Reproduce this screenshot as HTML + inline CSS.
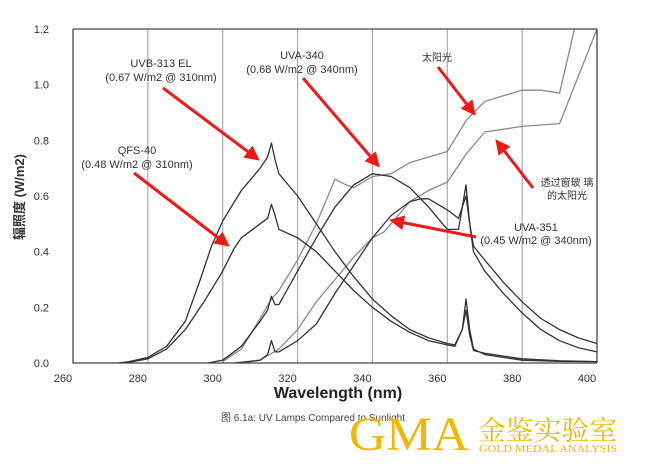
<!DOCTYPE html>
<html><head><meta charset="utf-8">
<style>
body{margin:0;background:#fff;width:649px;height:461px;overflow:hidden;font-family:"Liberation Sans","Noto Sans CJK SC",sans-serif}
.sans{font-family:"Liberation Sans","Noto Sans CJK SC",sans-serif}
.serif{font-family:"Liberation Serif","Noto Serif CJK SC",serif}
</style></head><body>
<svg width="649" height="461">
<g id="grid"></g><g id="series"></g><g id="axes" class="sans"></g>
</svg>
<script>
const xTicks=[260,280,300,320,340,360,380,400];
const yTicks=[0,0.2,0.4,0.6,0.8,1.0,1.2];
const uvbX=[272,275,280,285,290,294,297,300,305,310,312,313,314,315,320,325,330,335,340,345,350,355,360,362,364,365,366,367,370,380,390,400];
const uvbY=[0,0.005,0.02,0.06,0.15,0.3,0.42,0.51,0.62,0.7,0.74,0.79,0.73,0.68,0.6,0.5,0.4,0.31,0.23,0.17,0.12,0.09,0.07,0.065,0.12,0.23,0.12,0.05,0.03,0.01,0.006,0.005];
const qfsX=[273,275,280,285,290,295,300,303,305,307,310,312,313,314,315,320,325,330,335,340,345,350,355,360,362,364,365,366,367,370,380,390,400];
const qfsY=[0,0.003,0.015,0.05,0.12,0.22,0.33,0.41,0.45,0.47,0.5,0.52,0.57,0.53,0.48,0.45,0.4,0.33,0.26,0.2,0.15,0.11,0.08,0.065,0.06,0.12,0.19,0.1,0.045,0.035,0.015,0.008,0.005];
const u340X=[296,300,305,310,312,313,314,315,320,325,330,335,340,345,350,355,360,363,364,365,366,367,370,375,380,385,390,395,400];
const u340Y=[0,0.01,0.06,0.15,0.19,0.24,0.21,0.21,0.33,0.45,0.56,0.64,0.68,0.67,0.63,0.56,0.48,0.48,0.56,0.64,0.5,0.4,0.33,0.25,0.18,0.12,0.08,0.055,0.04];
const u351X=[303,310,312,313,314,315,320,325,330,335,340,345,350,353,355,360,363,364,365,366,367,370,375,380,385,390,395,400];
const u351Y=[0,0.01,0.03,0.08,0.04,0.04,0.08,0.14,0.25,0.35,0.45,0.53,0.58,0.59,0.59,0.55,0.52,0.56,0.6,0.5,0.42,0.37,0.29,0.22,0.16,0.12,0.09,0.07];
const sunX=[300,305,310,313,315,320,325,330,333,335,340,345,350,355,360,365,370,375,380,385,390,394];
const sunY=[0.005,0.05,0.16,0.23,0.26,0.37,0.5,0.66,0.64,0.63,0.67,0.68,0.72,0.74,0.76,0.87,0.94,0.96,0.98,0.98,0.97,1.2];
const glassX=[305,310,315,320,325,330,335,340,343,345,350,355,360,365,370,375,380,385,390,400];
const glassY=[0,0.01,0.05,0.12,0.22,0.3,0.38,0.45,0.47,0.5,0.58,0.62,0.65,0.75,0.83,0.84,0.85,0.855,0.86,1.2];
const X=v=>73+(v-260)*(597-73)/140;
const Y=v=>363-v*(363-29)/1.2;
const NS="http://www.w3.org/2000/svg";
function mk(tag,attrs,parent,txt){const e=document.createElementNS(NS,tag);for(const k in attrs)e.setAttribute(k,attrs[k]);if(txt!==undefined)e.textContent=txt;document.getElementById(parent).appendChild(e);return e;}
xTicks.slice(1,-1).forEach(t=>{const l=mk('line',{x1:X(t),x2:X(t),y1:Y(1.2),y2:Y(0),stroke:'#aaa','stroke-width':1.2},'grid');

});
function series(xs,ys,color,w,name){const d=xs.map((x,i)=>(i?'L':'M')+X(x).toFixed(1)+','+Y(ys[i]).toFixed(1)).join(' ');
const p=mk('path',{d:d,fill:'none',stroke:color,'stroke-width':w,'stroke-linejoin':'round'},'series');

}
series(sunX,sunY,'#8a8a8a',1.3,'sunlight-line');
series(glassX,glassY,'#8a8a8a',1.3,'window-glass-sunlight-line');
series(uvbX,uvbY,'#333',1.3,'uvb-313-line');
series(qfsX,qfsY,'#333',1.3,'qfs-40-line');
series(u340X,u340Y,'#333',1.3,'uva-340-line');
series(u351X,u351Y,'#333',1.3,'uva-351-line');
const fr=mk('path',{d:`M${X(260)},${Y(1.2)} L${X(260)},${Y(0)} L${X(400)},${Y(0)} M${X(260)},${Y(1.2)} L${X(400)},${Y(1.2)} M${X(400)},${Y(1.2)} L${X(400)},${Y(0)}`,fill:'none',stroke:'#444','stroke-width':1.3},'axes');


xTicks.forEach(t=>{const e=mk('text',{x:X(t)-10,y:382,'font-size':11,'text-anchor':'middle',fill:'#333'},'axes',String(t));

});
yTicks.forEach(t=>{const e=mk('text',{x:49,y:Y(t)+4,'font-size':11,'text-anchor':'end',fill:'#333'},'axes',t.toFixed(1));

});
</script>
<svg width="649" height="461" style="position:absolute;left:0;top:0" class="sans">
<defs><marker id="ah2" markerWidth="5" markerHeight="5" refX="3" refY="2.5" orient="auto"><path d="M0,0 L5,2.5 L0,5 z" fill="#f01818"/></marker></defs>
<text x="338" y="398" font-size="16" font-weight="bold" text-anchor="middle" fill="#222">Wavelength (nm)</text>
<text transform="translate(24,197) rotate(-90)" font-size="13" font-weight="bold" text-anchor="middle" fill="#333">辐照度 (W/m2)</text>
<g font-size="11" fill="#333" text-anchor="middle">
<text x="161" y="67">UVB-313 EL</text>
<text x="161" y="81">(0.67 W/m2 @ 310nm)</text>
<text x="137" y="154">QFS-40</text>
<text x="137" y="168">(0.48 W/m2 @ 310nm)</text>
<text x="302" y="59">UVA-340</text>
<text x="302" y="73">(0.68 W/m2 @ 340nm)</text>
<text x="437" y="61" font-size="10">太阳光</text>
<text x="567" y="186" font-size="10">透过窗玻 璃</text>
<text x="567" y="199" font-size="10">的太阳光</text>
<text x="536" y="231">UVA-351</text>
<text x="536" y="244">(0.45 W/m2 @ 340nm)</text>
</g>
<g stroke="#f01818" stroke-width="3" marker-end="url(#ah2)">
<line x1="163" y1="88" x2="255" y2="157"/>
<line x1="134" y1="173" x2="225" y2="243"/>
<line x1="303" y1="78" x2="376" y2="163"/>
<line x1="438" y1="67" x2="472" y2="111"/>
<line x1="533" y1="188" x2="499" y2="144"/>
<line x1="476" y1="237" x2="395" y2="221"/>
</g>
<text x="221" y="421" font-size="10" fill="#444">图 6.1a:  UV Lamps Compared to Sunlight</text>
<text class="serif" x="349" y="450" font-size="48" fill="#f0b800" textLength="120" lengthAdjust="spacingAndGlyphs">GMA</text>
<text class="serif" x="478" y="440" font-size="27" fill="#f0b800" textLength="139" lengthAdjust="spacingAndGlyphs">金鉴实验室</text>
<text class="serif" x="479" y="452" font-size="10" fill="#f0b800" textLength="138" lengthAdjust="spacingAndGlyphs">GOLD MEDAL ANALYSIS</text>
</svg>
</body></html>
